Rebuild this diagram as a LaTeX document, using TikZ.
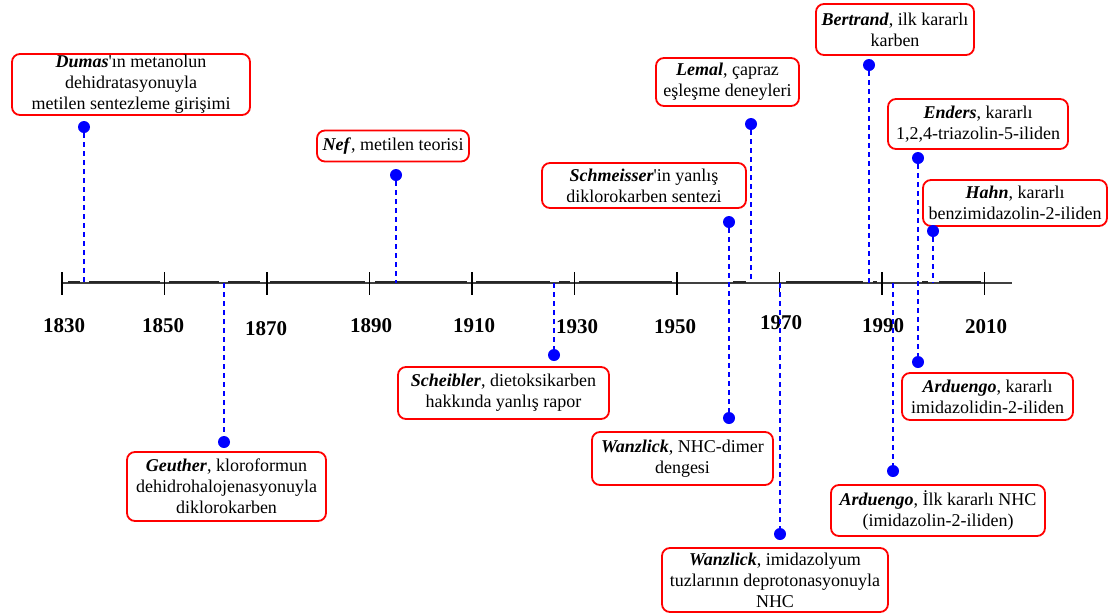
\documentclass[tikz,border=0pt]{standalone}
\usepackage{fontspec}
\setmainfont{Liberation Serif}
\tikzset{
  evbox/.style={draw=red, line width=1.8pt, rounded corners=8pt, fill=white, align=center, inner sep=0pt, font=\fontsize{18}{21}\selectfont},
  evdot/.style={circle, fill=blue, inner sep=0pt, minimum size=12pt},
  evline/.style={blue, line width=1.8pt, dash pattern=on 5pt off 4pt},
  tickmark/.style={line width=1.8pt, black},
  yearlbl/.style={font=\fontsize{21}{24}\selectfont\bfseries, inner sep=0pt},
  axisthin/.style={line width=1.2pt, black!75},
  axisthick/.style={line width=2.6pt, black!85},
}
\newcommand{\who}[1]{\textbf{\textit{#1}}}
\newcommand{\sq}{\XeTeXglyph\XeTeXcharglyph"27\relax}
\begin{document}
\begin{tikzpicture}[x=1pt,y=-1pt]
\useasboundingbox (0,0) rectangle (1109,614);

% axis
\coordinate (axisL) at (62,283);
\coordinate (axisR) at (1012,283);
\draw[axisthin] (axisL) -- (axisR);
\foreach \a/\b in {68/80, 89/160, 169/219, 228/260, 270/365, 375/467, 476/550, 559/570, 579/672, 733/746, 786/863, 873/877, 922/928, 939/981}
  \draw[axisthick] (\a,282) -- (\b,282);

% ticks and year labels
\foreach \i/\yr/\lx/\ly in {0/1830/64/326, 1/1850/163/326, 2/1870/266/329, 3/1890/371/326, 4/1910/474/326, 5/1930/577/327, 6/1950/675/327, 7/1970/781/323, 8/1990/883/326, 9/2010/986/327}{
  \coordinate (t\yr a) at ({62+\i*102.5},272);
  \coordinate (t\yr b) at ({62+\i*102.5},295);
  \draw[tickmark] (t\yr a) -- (t\yr b);
  \node[yearlbl] (y\yr) at (\lx,\ly) {\yr};
}

% event boxes
\node[evbox, minimum width=238pt, minimum height=61pt] (bDumas) at (131,84.5) {\who{Dumas}\sq ın metanolun\\dehidratasyonuyla\\metilen sentezleme girişimi};
\node[evbox, minimum width=152pt, minimum height=31pt] (bNef) at (393,146) {\who{Nef}, metilen teorisi};
\node[evbox, minimum width=204pt, minimum height=45pt] (bSchm) at (644,185.5) {\who{Schmeisser}\sq in yanlış\\diklorokarben sentezi};
\node[evbox, minimum width=143pt, minimum height=48pt] (bLemal) at (727.5,82) {\who{Lemal}, çapraz\\eşleşme deneyleri};
\node[evbox, minimum width=158pt, minimum height=51pt] (bBert) at (895,29.5) {\who{Bertrand}, ilk kararlı\\karben};
\node[evbox, minimum width=180pt, minimum height=50pt] (bEnders) at (978,124) {\who{Enders}, kararlı\\1,2,4-triazolin-5-iliden};
\node[evbox, minimum width=184pt, minimum height=46pt] (bHahn) at (1015,203) {\who{Hahn}, kararlı\\benzimidazolin-2-iliden};
\node[evbox, minimum width=199pt, minimum height=69pt] (bGeuther) at (226.5,486.5) {\who{Geuther}, kloroformun\\dehidrohalojenasyonuyla\\diklorokarben};
\node[evbox, minimum width=211pt, minimum height=52pt] (bScheib) at (503.5,393) {\who{Scheibler}, dietoksikarben\\hakkında yanlış rapor};
\node[evbox, minimum width=181pt, minimum height=53pt] (bWanzA) at (682.5,458.5) {\who{Wanzlick}, NHC-dimer\\dengesi};
\node[evbox, minimum width=226pt, minimum height=64pt] (bWanzB) at (775,580) {\who{Wanzlick}, imidazolyum\\tuzlarının deprotonasyonuyla\\NHC};
\node[evbox, minimum width=214pt, minimum height=51pt] (bArdA) at (938,510.5) {\who{Arduengo}, İlk kararlı NHC\\(imidazolin-2-iliden)};
\node[evbox, minimum width=171pt, minimum height=47pt] (bArdB) at (987.5,396.5) {\who{Arduengo}, kararlı\\imidazolidin-2-iliden};

% dots
\node[evdot] (dDumas) at (84,127) {};
\node[evdot] (dGeuther) at (224,442) {};
\node[evdot] (dNef) at (396,175) {};
\node[evdot] (dScheib) at (554,355) {};
\node[evdot] (dSchm) at (729,222) {};
\node[evdot] (dWanzA) at (729,418) {};
\node[evdot] (dLemal) at (751,124) {};
\node[evdot] (dWanzB) at (780,534) {};
\node[evdot] (dBert) at (869,65) {};
\node[evdot] (dArdA) at (893,471) {};
\node[evdot] (dEnders) at (918,158) {};
\node[evdot] (dArdB) at (918,362) {};
\node[evdot] (dHahn) at (933,231) {};

% axis points
\coordinate (aDumas) at (84,283);
\coordinate (aGeuther) at (224,283);
\coordinate (aNef) at (396,283);
\coordinate (aScheib) at (554,283);
\coordinate (aLemal) at (751,283);
\coordinate (aWanzB) at (780,283);
\coordinate (aBert) at (869,283);
\coordinate (aArdA) at (893,283);
\coordinate (aHahn) at (933,283);

% dashed connectors
\draw[evline] (dDumas) -- (aDumas);
\draw[evline] (aGeuther) -- (dGeuther);
\draw[evline] (dNef) -- (aNef);
\draw[evline] (aScheib) -- (dScheib);
\draw[evline] (dSchm) -- (dWanzA);
\draw[evline] (dLemal) -- (aLemal);
\draw[evline] (aWanzB) -- (dWanzB);
\draw[evline] (dBert) -- (aBert);
\draw[evline] (aArdA) -- (dArdA);
\draw[evline] (dEnders) -- (dArdB);
\draw[evline] (dHahn) -- (aHahn);
\end{tikzpicture}
\end{document}
